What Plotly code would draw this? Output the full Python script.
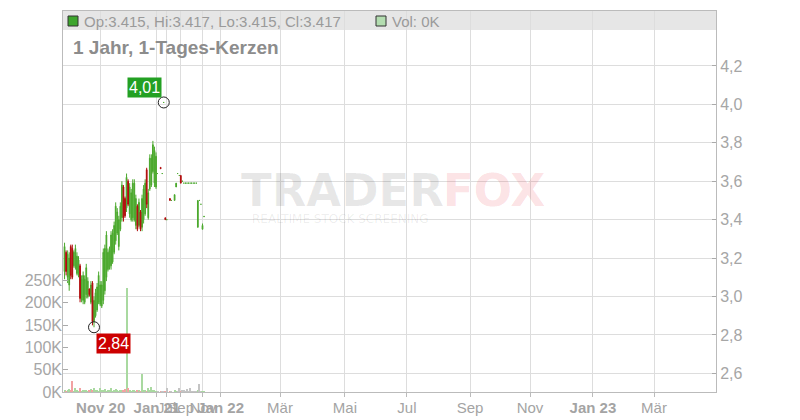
import plotly.graph_objects as go

N = None
# ---- data: one entry per trading-day slot (None = no trade) ----
opens = [3.13, 3.23, 3.10, 3.06, 3.26, 3.25, 3.16, 3.15, 3.12, 3.11,
         3.16, 2.98, 2.98, 2.97, 3.01, 3.00, 3.04, 2.97, 3.07, 2.87,
         2.90, 2.93, 2.97, 2.96, 2.95, 2.98, 3.03, 3.10, 3.14, 3.15,
         3.16, 3.18, 3.23, 3.29, 3.33, 3.26, 3.35, 3.41, 3.57, 3.51,
         3.46, 3.60, 3.43, 3.40, 3.41, 3.40, 3.37, 3.47, 3.37, 3.44,
         3.36, 3.40, 3.43, 3.66, 3.41, 3.56, 3.58, 3.65, 3.59, 3.57,
         3.64, N, 3.672, 3.64, 4.01, 3.41, 3.40, N, 3.51, 3.50,
         N, 3.50, 3.57, 3.64, 3.63, 3.63, 3.60, 3.59, 3.59, 3.59,
         3.59, 3.59, 3.59, 3.59, 3.59, 3.59,
         3.36, 3.50, 3.48, 3.35, 3.415]
highs = [3.28, 3.24, 3.24, 3.23, 3.27, 3.27, 3.24, 3.27, 3.23, 3.21,
         3.17, 3.11, 3.13, 3.11, 3.17, 3.10, 3.04, 3.08, 3.08, 3.00,
         3.04, 3.07, 3.13, 3.08, 3.08, 3.25, 3.27, 3.34, 3.25, 3.26,
         3.34, 3.35, 3.39, 3.49, 3.46, 3.42, 3.49, 3.60, 3.58, 3.52,
         3.64, 3.61, 3.59, 3.56, 3.61, 3.61, 3.53, 3.48, 3.51, 3.45,
         3.53, 3.58, 3.61, 3.67, 3.56, 3.74, 3.74, 3.81, 3.78, 3.75,
         3.64, N, 3.672, 3.64, 4.01, 3.41, 3.40, N, 3.51, 3.50,
         N, 3.53, 3.59, 3.64, 3.63, 3.63, 3.60, 3.59, 3.59, 3.59,
         3.59, 3.59, 3.59, 3.59, 3.59, 3.59,
         3.50, 3.50, 3.48, 3.38, 3.417]
lows = [3.09, 3.11, 3.07, 3.03, 3.09, 3.09, 3.15, 3.14, 3.11, 3.10,
        2.97, 2.97, 2.96, 2.96, 2.99, 2.99, 3.00, 2.96, 2.85, 2.84,
        2.89, 2.92, 2.96, 2.95, 2.94, 2.96, 3.01, 3.08, 3.13, 3.14,
        3.14, 3.17, 3.22, 3.27, 3.32, 3.24, 3.34, 3.39, 3.39, 3.41,
        3.44, 3.47, 3.41, 3.39, 3.39, 3.39, 3.35, 3.34, 3.36, 3.34,
        3.34, 3.38, 3.42, 3.46, 3.40, 3.55, 3.57, 3.64, 3.57, 3.56,
        3.64, N, 3.665, 3.64, 4.01, 3.40, 3.40, N, 3.50, 3.50,
        N, 3.50, 3.57, 3.64, 3.63, 3.59, 3.60, 3.59, 3.59, 3.59,
        3.59, 3.59, 3.59, 3.59, 3.59, 3.59,
        3.36, 3.50, 3.48, 3.35, 3.415]
closes = [3.26, 3.13, 3.22, 3.20, 3.11, 3.10, 3.23, 3.25, 3.21, 3.19,
          2.99, 3.09, 3.11, 3.09, 3.15, 3.08, 3.01, 3.06, 2.87, 2.98,
          3.02, 3.05, 3.11, 3.06, 3.06, 3.23, 3.25, 3.32, 3.23, 3.24,
          3.32, 3.33, 3.37, 3.47, 3.44, 3.40, 3.47, 3.58, 3.41, 3.42,
          3.62, 3.48, 3.57, 3.54, 3.59, 3.59, 3.51, 3.35, 3.49, 3.35,
          3.51, 3.56, 3.59, 3.48, 3.54, 3.72, 3.72, 3.79, 3.76, 3.73,
          3.64, N, 3.665, 3.64, 4.01, 3.40, 3.40, N, 3.50, 3.50,
          N, 3.53, 3.59, 3.64, 3.63, 3.59, 3.60, 3.59, 3.59, 3.59,
          3.59, 3.59, 3.59, 3.59, 3.59, 3.59,
          3.50, 3.50, 3.48, 3.37, 3.417]
volumes = [4000, 2000, 3000, 6000, 3000, 25000, 2000, 9000, 3000, 2000,
           9000, 2000, 3000, 4000, 3000, 2000, 3000, 6000, 3000, 8000,
           5000, 3000, 2000, 9000, 4000, 3000, 6000, 2000, 4000, 3000,
           9000, 2000, 4000, 6000, 3000, 2000, 5000, 3000, 4000, 6000,
           232000, 9000, 3000, 2000, 4000, 3000, 2000, 5000, 3000, 2000,
           40000, 3000, 4000, 2000, 9000, 5000, 11000, 4000, 3000, 2000,
           1000, N, 1000, 500, 1000, 2000, 9000, N, 2000, 1000,
           N, 3000, 2000, 1000, 10000, 2000, 3000, 5000, 1000, 6000,
           1000, 8000, 1000, 1000, 2000, 1000,
           3000, 18000, 2000, 1000, 200]

# x-axis labels (slot positions on the trading-day axis, incl. projected future)
tick_slots = [23.3, 59.6, 65.9, 74.9, 89.3, 100.7, 139, 180.9, 220.9, 261.6, 300.3, 340.9, 380.3]
tick_labels = ["Nov 20", "Jan 21", "Jul", "Sep", "Nov", "Jan 22", "Mär", "Mai", "Jul", "Sep", "Nov", "Jan 23", "Mär"]
year_labels = {"Nov 20", "Jan 21", "Jan 22", "Jan 23"}
price_ticks = [2.6, 2.8, 3.0, 3.2, 3.4, 3.6, 3.8, 4.0, 4.2]
vol_ticks = [0, 50000, 100000, 150000, 200000, 250000]

title_text = "1 Jahr, 1-Tages-Kerzen"

GREEN = "#4aa82c"
RED = "#b00a0a"
GRID = "#dddddd"
AX = "#bbbbbb"
TXT = "#9a9a9a"

slots = [i for i in range(len(opens)) if opens[i] is not None]
up = [i for i in slots if closes[i] >= opens[i]]
dn = [i for i in slots if closes[i] < opens[i]]

fig = go.Figure()

# volume bars
vcol = []
for i in slots:
    if closes[i] > opens[i]:
        vcol.append("#a9d9a0")
    elif closes[i] < opens[i]:
        vcol.append("#f2a2a2")
    else:
        vcol.append("#c4c4c4")
fig.add_trace(go.Bar(x=slots, y=[volumes[i] for i in slots], marker=dict(color=vcol, line=dict(width=0)),
                     width=0.65, yaxis="y2", hoverinfo="skip", showlegend=False))


def candle(idx, color):
    return go.Candlestick(
        x=idx, open=[opens[i] for i in idx], high=[highs[i] for i in idx],
        low=[lows[i] for i in idx], close=[closes[i] for i in idx],
        increasing=dict(line=dict(color=color, width=1), fillcolor=color),
        decreasing=dict(line=dict(color=color, width=1), fillcolor=color),
        whiskerwidth=0, showlegend=False, hoverinfo="skip", yaxis="y")


fig.add_trace(candle(up, GREEN))
fig.add_trace(candle(dn, RED))

# extreme markers
valid_hi = [(highs[i], i) for i in slots]
valid_lo = [(lows[i], i) for i in slots]
hmax, imax = max(valid_hi)
lmin, imin = min(valid_lo)
fig.add_trace(go.Scatter(x=[imax, imin], y=[hmax, lmin], mode="markers",
                         marker=dict(symbol="circle-open", size=11, color="#222", line=dict(width=1)),
                         hoverinfo="skip", showlegend=False, yaxis="y"))


def de(v, n=2):
    return f"{v:.{n}f}".replace(".", ",")


annotations = [
    dict(x=imax, y=hmax, xref="x", yref="y", text=de(hmax), showarrow=False,
         xanchor="right", yanchor="bottom", xshift=-2, yshift=4,
         bgcolor="#23a023", font=dict(color="white", size=16, family="Liberation Sans, Arial"), borderpad=1),
    dict(x=imin, y=lmin, xref="x", yref="y", text=de(lmin), showarrow=False,
         xanchor="left", yanchor="top", xshift=2, yshift=-6,
         bgcolor="#cc0000", font=dict(color="white", size=16, family="Liberation Sans, Arial"), borderpad=1),
]

# plot area geometry helpers (paper coords)
L, R, T, B = 63, 716, 11, 392
def px(xp):
    return (xp - L) / (R - L)
def py(yp):
    return (B - yp) / (B - T)

last = slots[-1]
hdr = f"Op:{opens[last]:.3f}, Hi:{highs[last]:.3f}, Lo:{lows[last]:.3f}, Cl:{closes[last]:.3f}"
vol_hdr = f"Vol: {round(volumes[last] / 1000)}K"

annotations += [
    dict(x=px(82), y=py(21), xref="paper", yref="paper", text=hdr, showarrow=False,
         xanchor="left", yanchor="middle", font=dict(size=15, color=TXT, family="Liberation Sans, Arial")),
    dict(x=px(390), y=py(21), xref="paper", yref="paper", text=vol_hdr, showarrow=False,
         xanchor="left", yanchor="middle", font=dict(size=15, color=TXT, family="Liberation Sans, Arial")),
    dict(x=px(71), y=py(47), xref="paper", yref="paper", text=f"<b>{title_text}</b>", showarrow=False,
         xanchor="left", yanchor="middle", font=dict(size=19, color="#8c8c8c", family="Liberation Sans, Arial")),
    # watermark
    dict(x=px(239), y=py(190), xref="paper", yref="paper", text="<b>TRADER</b>", showarrow=False,
         xanchor="left", yanchor="middle", font=dict(size=45, color="rgba(0,0,0,0.09)", family="DejaVu Sans")),
    dict(x=px(441), y=py(190), xref="paper", yref="paper", text="<b>FOX</b>", showarrow=False,
         xanchor="left", yanchor="middle", font=dict(size=45, color="rgba(235,40,60,0.15)", family="DejaVu Sans")),
    dict(x=px(250), y=py(219), xref="paper", yref="paper", text="REALTIME STOCK SCREENING", showarrow=False,
         xanchor="left", yanchor="middle", font=dict(size=12, color="rgba(0,0,0,0.08)", family="DejaVu Sans")),
]

shapes = [
    dict(type="rect", xref="paper", yref="paper", x0=0, x1=1, y0=py(30), y1=1,
         fillcolor="#e6e6e6", line=dict(width=0), layer="below"),
    dict(type="rect", xref="paper", yref="paper", x0=px(68), x1=px(78), y0=py(26), y1=py(16),
         fillcolor="#3da52d", line=dict(width=1, color="#333")),
    dict(type="rect", xref="paper", yref="paper", x0=px(376), x1=px(386), y0=py(26), y1=py(16),
         fillcolor="#b3ddb0", line=dict(width=1, color="#333")),
]

ticktext = [f"<b>{t}</b>" if t in year_labels else t for t in tick_labels]

fig.update_layout(
    template="none",
    width=800, height=420,
    margin=dict(l=L, r=800 - R, t=T, b=420 - B),
    paper_bgcolor="white", plot_bgcolor="white",
    separators=",.",
    showlegend=False,
    boxgap=0.3,
    bargap=0,
    annotations=annotations,
    shapes=shapes,
    xaxis=dict(range=[-1, 420.3], tickmode="array", tickvals=tick_slots, ticktext=ticktext,
               tickangle=0, ticklabelstandoff=-2,
               showgrid=True, gridcolor=GRID, gridwidth=1, zeroline=False,
               showline=True, linecolor=AX, linewidth=1, mirror=True,
               ticks="outside", ticklen=4, tickcolor=AX,
               tickfont=dict(size=15, color="#a4a4a4", family="Liberation Sans Narrow, Liberation Sans, Arial"),
               rangeslider=dict(visible=False), automargin=False, fixedrange=True),
    yaxis=dict(side="right", range=[2.503, 4.486], tickmode="array", tickvals=price_ticks,
               tickformat=".1f", showgrid=True, gridcolor=GRID, gridwidth=1, zeroline=False,
               showline=True, linecolor=AX, linewidth=1, mirror=True,
               ticks="inside", ticklen=4, tickcolor="#aaaaaa",
               tickfont=dict(size=16, color="#a6a6a6", family="Liberation Sans, Arial"),
               automargin=False, fixedrange=True),
    yaxis2=dict(side="left", overlaying="y", range=[0, 853000], tickmode="array", tickvals=vol_ticks,
                ticktext=[f"{v // 1000}K" for v in vol_ticks], showgrid=False, zeroline=False,
                showline=False, ticks="inside", ticklen=5, tickcolor="#aaaaaa",
                tickfont=dict(size=16, color="#a6a6a6", family="Liberation Sans, Arial"),
                automargin=False, fixedrange=True),
)

fig.write_html("out.html", config={"displayModeBar": False},
               post_script="document.body.style.margin='0';document.body.style.overflow='hidden';")
